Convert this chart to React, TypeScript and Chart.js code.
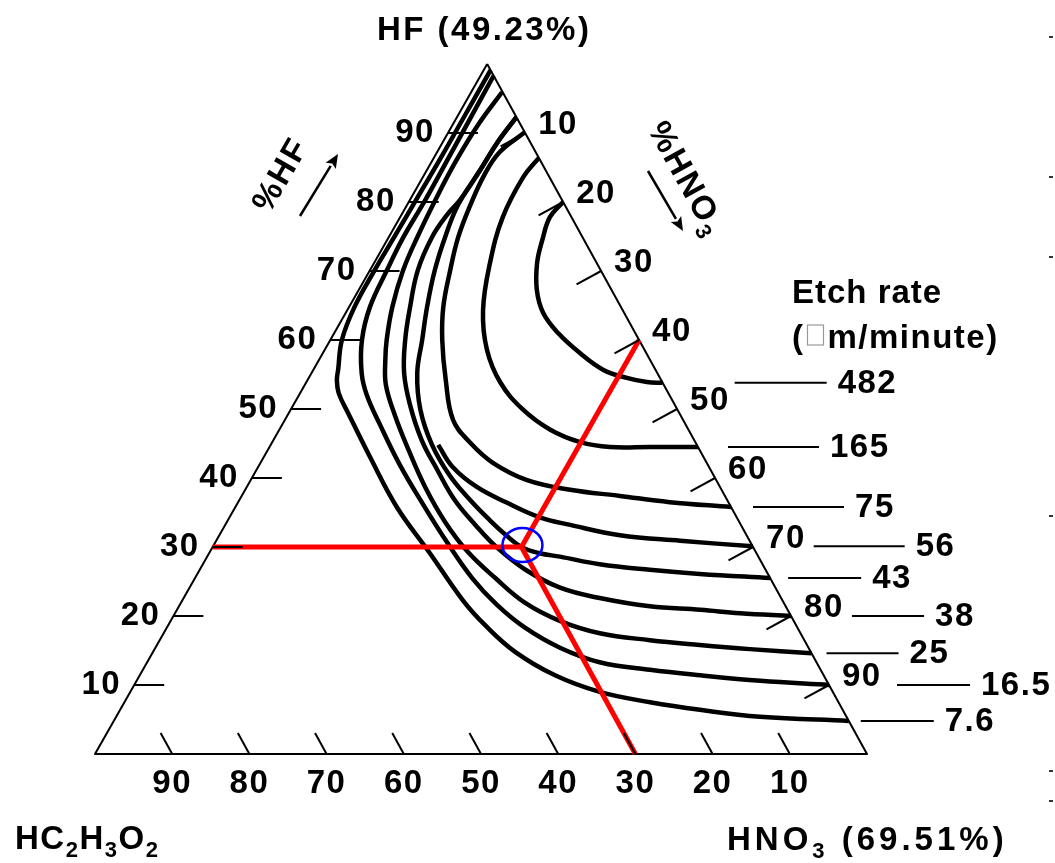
import React, { useEffect, useRef } from 'react';
import { Chart, registerables } from 'chart.js';

Chart.register(...registerables);

// ---------------- data (ternary: [HF %, HNO3 %], HC2H3O2 = rest) ----------------
const HF_TICKS = [10, 20, 30, 40, 50, 60, 70, 80, 90];
const HNO3_TICKS = [10, 20, 30, 40, 50, 60, 70, 80, 90];
const HAC_TICKS = [90, 80, 70, 60, 50, 40, 30, 20, 10];
const ETCH_RATES = ['482', '165', '75', '56', '43', '38', '25', '16.5', '7.6'];

const C482 = [[80, 20], [77.8, 19.4], [74.5, 20.1], [71.2, 21.1], [67.2, 23.1], [63.9, 25.6], [61.0, 29.0], [58.1, 33.3], [55.7, 37.5], [54.5, 41.2], [53.9, 44.1], [53.8, 46.2]];
const C165 = [[86.4, 13.6], [83.6, 13.0], [77.8, 13.3], [71.2, 15.0], [64.3, 17.6], [58.6, 21.0], [53.8, 25.2], [49.9, 30.1], [47.0, 35.1], [45.2, 39.9], [44.5, 44.1], [44.5, 49.3], [44.5, 55.5]];
const C75 = [[90.1, 9.9], [87.2, 8.1], [83.9, 7.8], [79.6, 8.2], [74.9, 9.0], [70.1, 10.4], [64.8, 12.2], [60.0, 14.5], [54.2, 17.9], [48.4, 21.8], [45.1, 25.7], [42.2, 30.1], [39.7, 35.8], [38.3, 42.1], [37.4, 49.0], [36.5, 55.9], [35.8, 64.2]];
const C56 = [[44.8, 21.7], [41.6, 25.2], [38.7, 29.8], [36.4, 34.9], [34.3, 40.2], [33.2, 44.7], [31.7, 51.9], [30.9, 60.1], [30.1, 69.9]];
const C43 = [[92.3, 7.7], [88.6, 7.1], [84.6, 6.9], [79.6, 6.6], [74.9, 7.3], [70.1, 8.4], [64.8, 10.1], [60.0, 11.9], [55.2, 13.7], [49.9, 16.8], [44.8, 20.9], [40.4, 25.4], [36.8, 29.9], [33.9, 33.9], [31.8, 37.0], [30.0, 40.0], [29.1, 42.8], [28.6, 45.7], [27.5, 51.4], [26.7, 58.3], [26.1, 65.1], [25.5, 74.5]];
const C38 = [[92.3, 7.7], [88.6, 7.1], [84.6, 6.9], [80.3, 6.5], [78.1, 5.9], [74.9, 5.6], [70.1, 6.2], [64.8, 7.9], [60.0, 9.7], [55.2, 12.0], [50.6, 15.1], [45.5, 19.2], [41.2, 23.4], [36.8, 27.9], [33.2, 32.4], [29.9, 36.9], [26.7, 42.2], [24.1, 48.0], [22.6, 53.9], [21.4, 61.0], [20.9, 67.8], [20.4, 73.2], [20.0, 80.0]];
const C25 = [[95.9, 4.0], [91.2, 3.3], [85.7, 3.1], [80.3, 3.3], [74.9, 3.7], [70.1, 4.3], [64.8, 5.6], [60.0, 7.3], [57.1, 8.6], [53.5, 10.5], [49.1, 13.9], [44.1, 18.2], [38.7, 23.1], [33.6, 28.3], [29.3, 33.4], [25.5, 38.9], [21.9, 44.6], [19.3, 50.4], [17.5, 56.5], [16.5, 63.5], [15.8, 70.3], [15.2, 77.1], [14.6, 85.4]];
const C16_5 = [[98.3, 1.7], [92.6, 1.8], [86.8, 1.9], [80.3, 2.0], [74.9, 1.9], [70.1, 2.2], [64.8, 2.7], [60.0, 4.1], [55.2, 6.5], [52.0, 8.8], [47.7, 12.7], [41.9, 18.2], [36.1, 24.2], [30.6, 30.1], [25.5, 35.9], [21.6, 41.1], [18.3, 46.4], [15.4, 52.4], [13.3, 58.6], [12.2, 65.7], [11.4, 72.6], [10.6, 80.8], [10.0, 90.0]];
const C7_6 = [[99.1, 0.9], [92.5, 0.9], [86.1, 0.9], [80.3, 0.8], [74.9, 0.7], [70.1, 0.6], [64.8, 0.7], [60.0, 1.5], [55.7, 3.2], [54.2, 3.8], [52.3, 5.0], [49.4, 7.7], [43.0, 13.8], [35.8, 20.9], [29.1, 28.6], [22.3, 36.3], [18.7, 41.0], [14.8, 46.9], [11.4, 53.8], [9.0, 60.8], [7.5, 68.1], [6.4, 75.1], [5.4, 83.4], [4.8, 95.2]];
const CONTOURS = [C482, C165, C75, C56, C43, C38, C25, C16_5, C7_6];

const MIX_POINT = [30, 40]; // HF 30 %, HNO3 40 %, HC2H3O2 30 %

const TITLE_HF = 'HF (49.23%)';
const ETCH_TITLE = 'Etch rate';

// ---------------- layout ----------------
const W = 1055;
const H = 863;
const APEX_FRAC = 0.508;
const FONT = '"Liberation Sans", Arial, sans-serif';
const FS = 33;
const SUB = 22;
// leader line offsets (px) from the right edge where each contour ends
const LEADER_OFF = [[72, 164], [30, 121], [22, 113], [61, 152], [18, 91], [61, 133], [15, 87], [68, 141], [12, 85]];
// small stray marks on the right border of the source figure
const EDGE_MARKS = [36, 176, 256, 515, 770, 800];

function toXY(p: number[]) {
  return { x: p[1] + APEX_FRAC * p[0], y: p[0] };
}

type Seg = [string, boolean];

function richWidth(ctx: CanvasRenderingContext2D, segs: Seg[]) {
  let w = 0;
  segs.forEach(([t, s]) => {
    ctx.font = `bold ${s ? SUB : FS}px ${FONT}`;
    w += ctx.measureText(t).width;
  });
  return w;
}

function drawRich(ctx: CanvasRenderingContext2D, segs: Seg[], x: number, y: number, align: string, spacing = 1.5) {
  (ctx as any).letterSpacing = `${spacing}px`;
  const w = richWidth(ctx, segs);
  let cx = align === 'center' ? x - w / 2 : align === 'right' ? x - w : x;
  ctx.textAlign = 'left';
  ctx.textBaseline = 'alphabetic';
  segs.forEach(([t, s]) => {
    ctx.font = `bold ${s ? SUB : FS}px ${FONT}`;
    ctx.fillText(t, cx, y + (s ? 8 : 0));
    cx += ctx.measureText(t).width;
  });
  (ctx as any).letterSpacing = '1.5px';
}

function seg(ctx: CanvasRenderingContext2D, x1: number, y1: number, x2: number, y2: number) {
  ctx.beginPath();
  ctx.moveTo(x1, y1);
  ctx.lineTo(x2, y2);
  ctx.stroke();
}

function arrow(ctx: CanvasRenderingContext2D, x1: number, y1: number, x2: number, y2: number) {
  const ang = Math.atan2(y2 - y1, x2 - x1);
  const hl = 14, hw = 6;
  const bx = x2 - hl * Math.cos(ang), by = y2 - hl * Math.sin(ang);
  ctx.lineWidth = 2.5;
  seg(ctx, x1, y1, bx, by);
  ctx.beginPath();
  ctx.moveTo(x2, y2);
  ctx.lineTo(bx + hw * Math.sin(ang), by - hw * Math.cos(ang));
  ctx.lineTo(bx + 3 * Math.cos(ang), by + 3 * Math.sin(ang));
  ctx.lineTo(bx - hw * Math.sin(ang), by + hw * Math.cos(ang));
  ctx.closePath();
  ctx.fill();
}

const ternaryPlugin = {
  id: 'ternaryDecor',
  afterDatasetsDraw(chart: any) {
    const { ctx, scales, chartArea } = chart;
    const xs = scales.x, ys = scales.y;
    const P = (hf: number, hno3: number) => ({
      x: xs.getPixelForValue(hno3 + APEX_FRAC * hf),
      y: ys.getPixelForValue(hf),
    });
    ctx.save();
    ctx.strokeStyle = '#000';
    ctx.fillStyle = '#000';
    ctx.lineCap = 'butt';
    (ctx as any).letterSpacing = '1.5px';

    // blue circle around the mixture point
    const m = P(MIX_POINT[0], MIX_POINT[1]);
    ctx.strokeStyle = '#0000ff';
    ctx.lineWidth = 2.5;
    ctx.beginPath();
    ctx.ellipse(m.x + 1, m.y - 2, 20, 17, 0, 0, Math.PI * 2);
    ctx.stroke();
    ctx.strokeStyle = '#000';

    ctx.lineWidth = 2;
    ctx.font = `bold ${FS}px ${FONT}`;
    // left edge: HF ticks
    HF_TICKS.forEach((v) => {
      const p = P(v, 0);
      seg(ctx, p.x, p.y, p.x + 30, p.y);
      ctx.textAlign = 'right';
      ctx.textBaseline = 'middle';
      ctx.fillText(String(v), p.x - 13, p.y);
    });
    // right edge: HNO3 ticks
    HNO3_TICKS.forEach((v) => {
      const p = P(100 - v, v);
      seg(ctx, p.x, p.y, p.x - 0.877 * 28, p.y + 0.48 * 28);
      ctx.textAlign = 'left';
      ctx.textBaseline = 'middle';
      ctx.fillText(String(v), p.x + 13, p.y - 8);
    });
    // base: HC2H3O2 ticks
    HAC_TICKS.forEach((v) => {
      const p = P(0, 100 - v);
      seg(ctx, p.x, p.y, p.x - 0.482 * 24, p.y - 0.876 * 24);
      ctx.textAlign = 'center';
      ctx.textBaseline = 'middle';
      ctx.fillText(String(v), p.x, p.y + 30);
    });

    // etch-rate leaders and labels
    ctx.lineWidth = 2;
    CONTOURS.forEach((c, i) => {
      const end = c[c.length - 1];
      const p = P(end[0], end[1]);
      const [o0, o1] = LEADER_OFF[i];
      seg(ctx, p.x + o0, p.y, p.x + o1, p.y);
      ctx.textAlign = 'left';
      ctx.textBaseline = 'middle';
      ctx.fillText(ETCH_RATES[i], p.x + o1 + 11, p.y + 1);
    });

    // titles
    const apex = P(100, 0);
    const bl = P(0, 0);
    const br = P(0, 100);
    drawRich(ctx, [[TITLE_HF, false]], apex.x - 3, chartArea.top - 24, 'center', 2.5);
    drawRich(ctx, [['HC', false], ['2', true], ['H', false], ['3', true], ['O', false], ['2', true]], bl.x - 80, bl.y + 95, 'left', 1.5);
    drawRich(ctx, [['HNO', false], ['3', true], [' (69.51%)', false]], br.x - 140, br.y + 96, 'left', 4);
    drawRich(ctx, [[ETCH_TITLE, false]], br.x - 75, 303, 'left', 1);
    // "(□m/minute)"
    {
      let x = br.x - 75;
      const y = 348;
      ctx.textAlign = 'left';
      ctx.textBaseline = 'alphabetic';
      ctx.font = `bold ${FS}px ${FONT}`;
      ctx.fillText('(', x, y);
      x += ctx.measureText('(').width + 2;
      ctx.strokeStyle = '#999';
      ctx.lineWidth = 1.2;
      ctx.strokeRect(x + 1, y - 23, 16, 20);
      x += 21;
      ctx.fillStyle = '#000';
      ctx.fillText('m/minute)', x, y);
      ctx.strokeStyle = '#000';
    }

    // rotated axis captions with arrows
    ctx.save();
    ctx.translate(279, 174);
    ctx.rotate(-Math.PI / 3);
    drawRich(ctx, [['%HF', false]], 0, 12, 'center', 2);
    ctx.restore();
    arrow(ctx, 300, 216, 338, 154);

    ctx.save();
    ctx.translate(688, 178);
    ctx.rotate((61 * Math.PI) / 180);
    drawRich(ctx, [['%HNO', false], ['3', true]], 0, 12, 'center', 2);
    ctx.restore();
    arrow(ctx, 648, 171, 683, 231);

    // stray border marks
    ctx.fillStyle = '#333';
    EDGE_MARKS.forEach((yy) => ctx.fillRect(W - 6, yy, 4, 2));

    ctx.restore();
  },
};

export default function App() {
  const ref = useRef<HTMLCanvasElement | null>(null);
  useEffect(() => {
    if (!ref.current) return;
    const triangle = [[100, 0], [0, 100], [0, 0], [100, 0]];
    const datasets: any[] = [];
    const red = '#ff0000';
    datasets.push({ data: [MIX_POINT, [MIX_POINT[0], 0]].map(toXY), borderColor: red, borderWidth: 5, order: 0 });
    datasets.push({ data: [MIX_POINT, [100 - MIX_POINT[1], MIX_POINT[1]]].map(toXY), borderColor: red, borderWidth: 5, order: 0 });
    datasets.push({ data: [MIX_POINT, [0, 100 - (100 - MIX_POINT[0] - MIX_POINT[1])]].map(toXY), borderColor: red, borderWidth: 5, order: 0 });
    CONTOURS.forEach((c) => {
      datasets.push({ data: c.map(toXY), borderColor: '#000', borderWidth: 4.5, tension: 0.4, order: 1 });
    });
    datasets.push({ data: triangle.map(toXY), borderColor: '#000', borderWidth: 2, tension: 0, order: 2 });
    datasets.forEach((d) => {
      d.showLine = true;
      d.pointRadius = 0;
      d.pointHoverRadius = 0;
      d.fill = false;
      d.clip = false;
      d.borderJoinStyle = 'round';
      if (d.tension === undefined) d.tension = 0;
    });
    const chart = new Chart(ref.current, {
      type: 'scatter',
      data: { datasets },
      options: {
        animation: false,
        responsive: false,
        devicePixelRatio: 1,
        events: [],
        layout: { padding: { left: 95, right: 188, top: 64, bottom: 109 } },
        scales: {
          x: { type: 'linear', min: 0, max: 100, display: false },
          y: { type: 'linear', min: 0, max: 100, display: false },
        },
        plugins: { legend: { display: false }, tooltip: { enabled: false } },
      },
      plugins: [ternaryPlugin],
    } as any);
    return () => chart.destroy();
  }, []);
  return (
    <div style={{ position: 'absolute', left: 0, top: 0, width: W, height: H, background: '#fff' }}>
      <canvas ref={ref} width={W} height={H} style={{ display: 'block' }} />
    </div>
  );
}
